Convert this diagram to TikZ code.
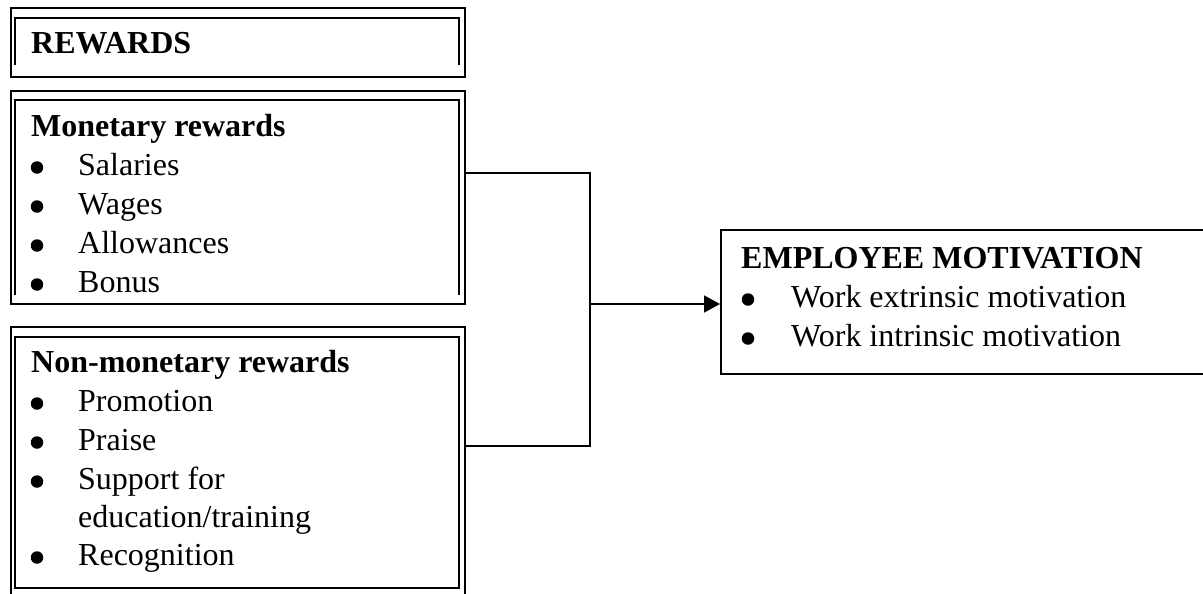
\documentclass[tikz,border=0pt]{standalone}
\usepackage{fontspec}
\setmainfont{Liberation Serif}
\usetikzlibrary{arrows.meta}
\begin{document}
\begin{tikzpicture}[x=1pt,y=-1pt,
  frame/.style={draw, line width=1.8pt, rectangle, inner sep=0pt, anchor=north west},
  rule/.style={line width=1.8pt},
  link/.style={line width=1.6pt},
  txt/.style={anchor=base west, inner sep=0pt, font=\fontsize{32}{38}\selectfont},
  head/.style={txt, font=\fontsize{32}{38}\selectfont\bfseries},
  bul/.style={circle, fill, draw=none, inner sep=0pt, minimum size=12.5pt}
]
\useasboundingbox (0,0) rectangle (1203,594);
\clip (0,0) rectangle (1203,594);

% outer frames
\node[frame, minimum width=454pt, minimum height=69pt]  (rw)  at (10,7)   {};
\node[frame, minimum width=454pt, minimum height=213pt] (mon) at (10,90)  {};
\node[frame, minimum width=454pt, minimum height=280pt] (non) at (10,326) {};
\node[frame, minimum width=520pt, minimum height=144pt] (emp) at (720,229) {};

% inner rules of the double borders
\draw[rule] (15,65) -- (15,18) -- (459,18) -- (459,65);
\draw[rule] (15,295) -- (15,100) -- (459,100) -- (459,295);
\draw[rule] (15,337) rectangle (459,588);

% texts
\node[head] (trw) at (31,54) {REWARDS};

\node[head] (tmon) at (31,136) {Monetary rewards};
\foreach \y/\t [count=\i] in {175/Salaries, 214/Wages, 253/Allowances, 292/Bonus}{
  \node[bul] (mb\i) at (37,\y-7.5) {};
  \node[txt] (mt\i) at (78,\y) {\t};
}

\node[head] (tnon) at (31,372) {Non-monetary rewards};
\foreach \y/\t [count=\i] in {411/Promotion, 450/Praise, 489/Support for, 565/Recognition}{
  \node[bul] (nb\i) at (37,\y-7.5) {};
  \node[txt] (nt\i) at (78,\y) {\t};
}
\node[txt] (nt5) at (78,527) {education/training};

\node[head] (temp) at (741,268) {EMPLOYEE MOTIVATION};
\node[bul] (eb1) at (748,307-7.5) {};
\node[txt] (et1) at (791,307) {Work extrinsic motivation};
\node[bul] (eb2) at (748,346-7.5) {};
\node[txt] (et2) at (791,346) {Work intrinsic motivation};

% connectors
\coordinate (mtap) at (0,173);
\coordinate (ntap) at (0,446);
\coordinate (hub) at (590,304);
\draw[link] (mon.east |- mtap) -| (hub) |- (non.east |- ntap);
\draw[link, -{Triangle[length=16pt,width=17pt]}] (hub) -- (emp.west |- hub);
\end{tikzpicture}
\end{document}
